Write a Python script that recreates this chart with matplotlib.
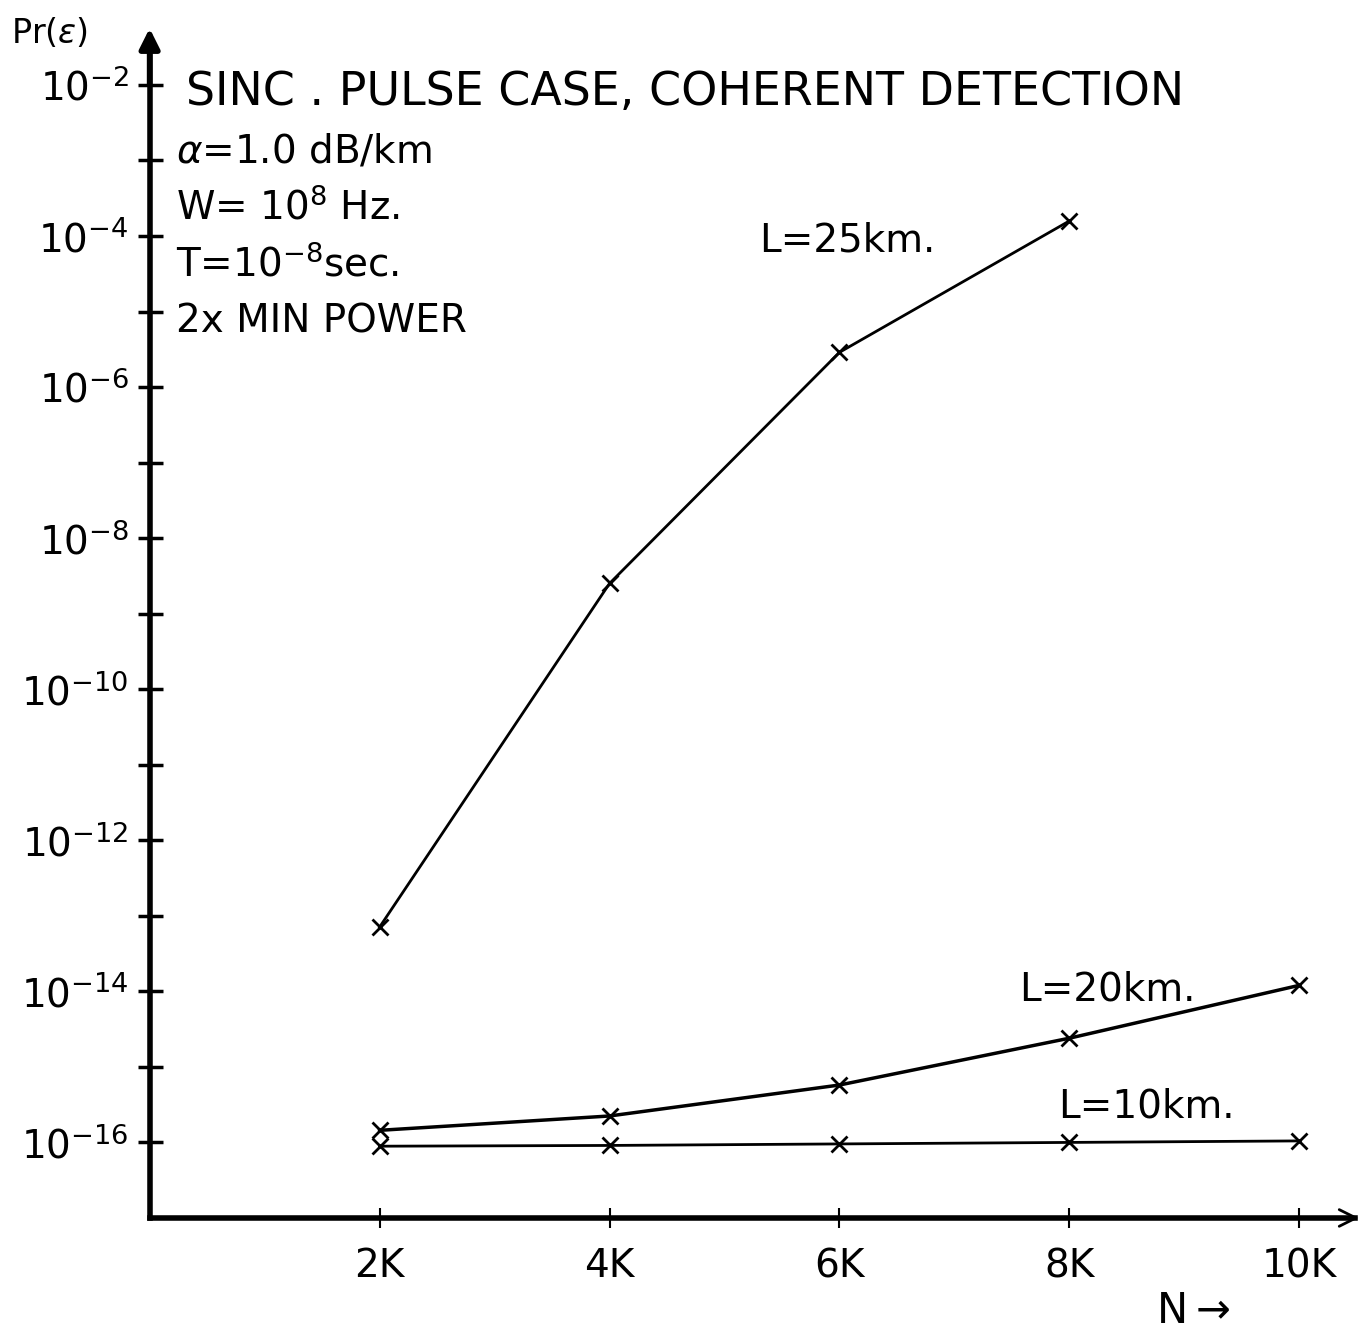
import numpy as np
import matplotlib
matplotlib.use("Agg")
import matplotlib.pyplot as plt

# N values (thousands of pulses)
n_vals = [2000, 4000, 6000, 8000, 10000]
n_25 = [2000, 4000, 6000, 8000]

# Pr(e)
pe_25km = [10**-13.15, 10**-8.6, 10**-5.54, 10**-3.8]
pe_20km = [10**-15.84, 10**-15.65, 10**-15.24, 10**-14.62, 10**-13.92]
pe_10km = [10**-16.05, 10**-16.04, 10**-16.02, 10**-16.0, 10**-15.98]

x_ticks = [2000, 4000, 6000, 8000, 10000]
x_labels = ["2K", "4K", "6K", "8K", "10K"]
y_exps = list(range(-2, -17, -1))

info_lines = [r"$\alpha$=1.0 dB/km", r"W= 10$^8$ Hz.", r"T=10$^{-8}$sec.", "2x MIN POWER"]

fig = plt.figure(figsize=(13.6, 13.39), dpi=100)
ax = fig.add_axes([0.110, 0.0904, 0.886, 0.880])
ax.set_yscale("log")
ax.set_xlim(0, 10480)
ax.set_ylim(10**-17, 10**-1.4)

ax.plot(n_25, pe_25km, color="black", lw=2, marker="x", ms=12, mew=2)
ax.plot(n_vals, pe_20km, color="black", lw=2.5, marker="x", ms=12, mew=2)
ax.plot(n_vals, pe_10km, color="black", lw=2, marker="x", ms=12, mew=2)

for s in ["top", "right"]:
    ax.spines[s].set_visible(False)
ax.spines["left"].set_linewidth(4)
ax.spines["bottom"].set_linewidth(4)

ax.set_yticks([10.0**e for e in y_exps])
ax.set_yticklabels([("$10^{%d}$" % e) if e % 2 == 0 else "" for e in y_exps], fontsize=28)
ax.yaxis.set_minor_locator(matplotlib.ticker.NullLocator())
ax.tick_params(axis="y", direction="inout", length=18, width=2.5, pad=6)
ax.set_xticks(x_ticks)
ax.set_xticklabels(x_labels, fontsize=28)
ax.tick_params(axis="x", direction="inout", length=14, width=1.5, pad=14)

# axis arrows
ax.annotate("", xy=(0, 1.012), xytext=(0, 0.96), xycoords="axes fraction",
            arrowprops=dict(arrowstyle="-|>", lw=4, color="black", mutation_scale=30))
ax.annotate("", xy=(1.006, 0), xytext=(0.97, 0), xycoords="axes fraction",
            arrowprops=dict(arrowstyle="->", lw=2, color="black", mutation_scale=30))

fig.text(0.008, 0.963, r"Pr($\epsilon$)", fontsize=24, va="bottom")
fig.text(0.85, 0.005, r"N$\rightarrow$", fontsize=30, va="bottom")

ax.text(0.03, 0.955, "SINC . PULSE CASE, COHERENT DETECTION", transform=ax.transAxes,
        fontsize=33, va="center")
for i, t in enumerate(info_lines):
    ax.text(0.022, 0.905 - i * 0.048, t, transform=ax.transAxes, fontsize=28, va="center")

ax.text(5300, 10**-4.06, "L=25km.", fontsize=28, va="center")
ax.text(7560, 10**-13.97, "L=20km.", fontsize=28, va="center")
ax.text(7900, 10**-15.53, "L=10km.", fontsize=28, va="center")

fig.savefig("out.png", dpi=100)
